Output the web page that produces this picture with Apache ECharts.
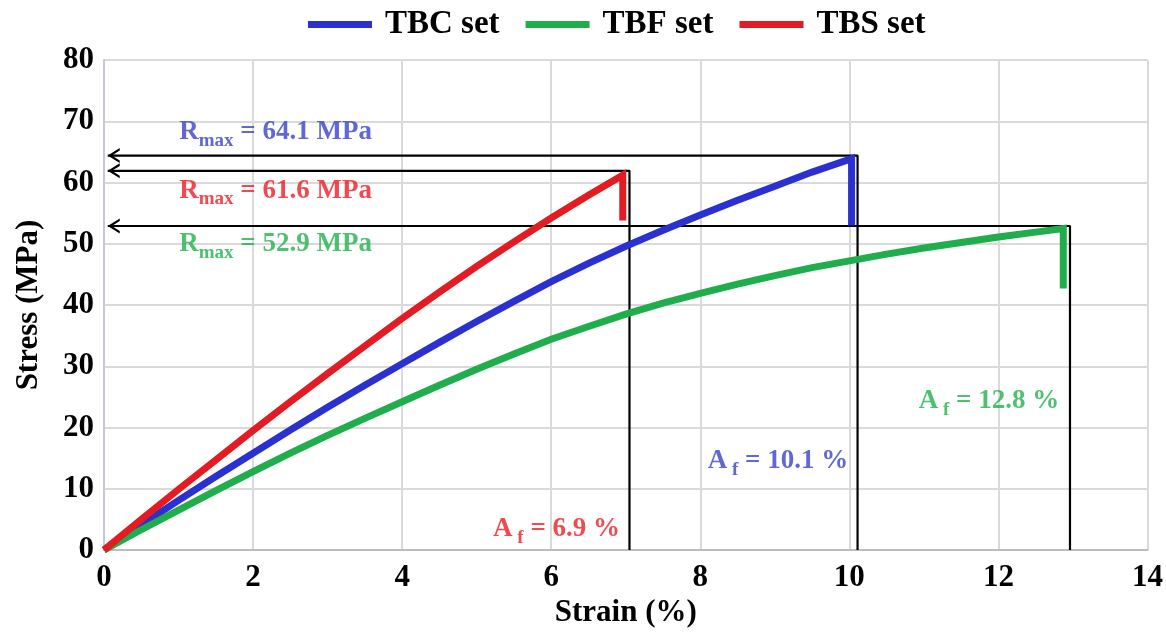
<!DOCTYPE html>
<html><head><meta charset="utf-8">
<script src="https://cdn.jsdelivr.net/npm/echarts@6/dist/echarts.min.js"></script>
<style>html,body{margin:0;padding:0;background:#fff}#c{width:1166px;height:634px}</style>
</head><body><div id="c"></div>
<script>
const FONT = '"Liberation Serif","Times New Roman",serif';
const seriesNames = ['TBC set', 'TBF set', 'TBS set'];

const tbcStrain = [0,0.5,1,1.5,2,2.5,3,3.5,4,4.5,5,5.5,6,6.5,7,7.5,8,8.5,9,9.5,10.03,10.03];
const tbcStress = [0,4.1,8.1,12,15.8,19.6,23.3,26.9,30.4,33.9,37.3,40.6,43.8,46.8,49.6,52.2,54.7,57.1,59.4,61.7,63.9,53.0];

const tbfStrain = [0,0.5,1,1.5,2,2.5,3,3.5,4,4.5,5,5.5,6,6.5,7,7.5,8,8.5,9,9.5,10,10.5,11,11.5,12,12.5,12.87,12.87];
const tbfStress = [0,3.3,6.5,9.7,12.8,15.8,18.7,21.5,24.2,26.9,29.5,32.0,34.4,36.5,38.5,40.3,41.9,43.4,44.8,46.1,47.2,48.3,49.3,50.2,51.1,51.9,52.5,42.7];

const tbsStrain = [0,0.5,1,1.5,2,2.5,3,3.5,4,4.5,5,5.5,6,6.5,6.96,6.96];
const tbsStress = [0,5,9.9,14.7,19.5,24.2,28.8,33.3,37.8,42.1,46.3,50.3,54.2,57.9,61.2,53.8];

// reference brackets: [stress level, strain at failure]
const bracketStress = [64.4, 61.9, 52.9];
const bracketStrain = [10.11, 7.05, 12.96];

// annotation texts, anchors (left edge, vertical centre) and colour index (0 TBC, 1 TBF, 2 TBS)
const rmaxTexts = ['64.1 MPa', '61.6 MPa', '52.9 MPa'];
const rmaxAnchor = [[1.01, 68.2], [1.01, 58.6], [1.01, 49.9]];
const rmaxColor = [0, 2, 1];
const afTexts = ['10.1 %', '12.8 %', '6.9 %'];
const afAnchor = [[8.1, 14.5], [10.93, 24.3], [5.22, 3.4]];
const afColor = [0, 1, 2];

const colors = ['#2b30d0', '#1fae4b', '#e31b23'];
const textColors = ['#3a42c8', '#22b14c', '#ed1c24'];

const zip = (a, b) => a.map((v, i) => [v, b[i]]);

const chevron = 'path://M12,0 L0,7 L12,14 L12,11.6 L4.2,7 L12,2.4 Z';

const bracketSeries = bracketStress.map((s, i) => ({
  type: 'line', silent: true, z: 2,
  showSymbol: true, symbol: 'none',
  lineStyle: { color: '#000', width: 2.2 },
  data: [
    { value: [0.05, s], symbol: chevron, symbolSize: [12, 15], symbolOffset: [6, 0], itemStyle: { color: '#000' } },
    [bracketStrain[i], s],
    [bracketStrain[i], 0]
  ]
}));

const curveData = [zip(tbcStrain, tbcStress), zip(tbfStrain, tbfStress), zip(tbsStrain, tbsStress)];
const curveSeries = seriesNames.map((n, i) => ({
  name: n, type: 'line', z: 3, showSymbol: false, symbol: 'none',
  color: colors[i],
  lineStyle: { color: colors[i], width: 7, join: 'miter' },
  data: curveData[i]
}));

const rich = {};
textColors.forEach((c, i) => {
  rich['m' + i] = { color: c, fontSize: 27, fontWeight: 'bold', fontFamily: FONT, lineHeight: 36, verticalAlign: 'middle' };
  rich['s' + i] = { color: c, fontSize: 19, fontWeight: 'bold', fontFamily: FONT, verticalAlign: 'bottom' };
});

const labelData = [];
rmaxTexts.forEach((t, i) => {
  const c = rmaxColor[i];
  labelData.push({ value: rmaxAnchor[i], txt: '{m' + c + '|R}{s' + c + '|max}{m' + c + '| = ' + t + '}' });
});
afTexts.forEach((t, i) => {
  const c = afColor[i];
  labelData.push({ value: afAnchor[i], txt: '{m' + c + '|A}{s' + c + '| f}{m' + c + '| = ' + t + '}' });
});

const labelSeries = {
  type: 'scatter', silent: true, z: 4, symbolSize: 0,
  data: labelData,
  label: {
    show: true, position: 'right', distance: 0,
    formatter: p => p.data.txt, rich: rich
  }
};

const chart = echarts.init(document.getElementById('c'), null, { renderer: 'canvas' });
chart.setOption({
  animation: false,
  backgroundColor: '#fff',
  grid: { left: 104, right: 14, top: 60, bottom: 84, containLabel: false },
  legend: {
    data: seriesNames, left: 303, top: 3,
    icon: 'rect', itemWidth: 64, itemHeight: 7, itemGap: 26,
    textStyle: { fontSize: 33, fontWeight: 'bold', fontFamily: FONT, color: '#000', padding: [0, 0, 0, 8] }
  },
  xAxis: {
    type: 'value', min: 0, max: 14, interval: 2,
    name: 'Strain (%)', nameLocation: 'middle', nameGap: 45,
    nameTextStyle: { fontSize: 31, fontWeight: 'bold', fontFamily: FONT, color: '#000' },
    axisLine: { show: true, lineStyle: { color: '#bdbdbd', width: 2 } },
    axisTick: { show: false },
    axisLabel: { fontSize: 31, fontWeight: 'bold', fontFamily: FONT, color: '#000', margin: 12 },
    splitLine: { show: true, lineStyle: { color: '#dadada', width: 2 } }
  },
  yAxis: {
    type: 'value', min: 0, max: 80, interval: 10,
    name: 'Stress (MPa)', nameLocation: 'middle', nameGap: 60,
    nameTextStyle: { fontSize: 31, fontWeight: 'bold', fontFamily: FONT, color: '#000' },
    axisLine: { show: true, lineStyle: { color: '#c5c8d8', width: 2 } },
    axisTick: { show: false },
    axisLabel: { fontSize: 31, fontWeight: 'bold', fontFamily: FONT, color: '#000', margin: 10 },
    splitLine: { show: true, lineStyle: { color: '#dadada', width: 2 } }
  },
  series: [...bracketSeries, ...curveSeries, labelSeries]
});
</script>
</body></html>
